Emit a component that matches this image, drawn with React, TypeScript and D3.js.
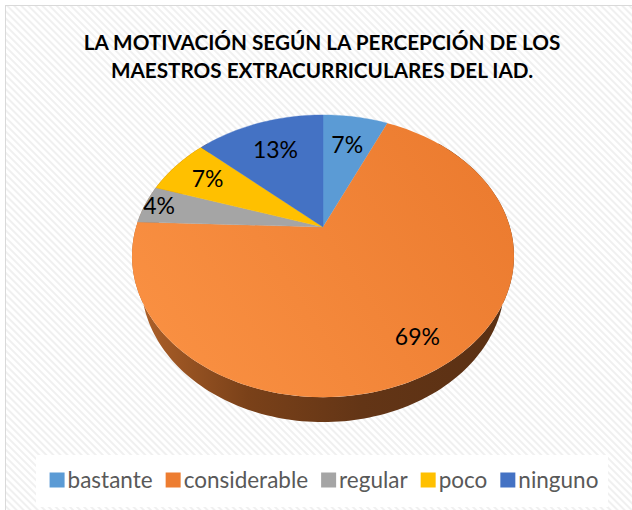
import React, { useEffect, useRef } from "react";
import * as d3 from "d3";

const categories = ["bastante", "considerable", "regular", "poco", "ninguno"];
const values = [6.7, 68.9, 4.4, 6.7, 13.3];
const pctLabels = ["7%", "69%", "4%", "7%", "13%"];
const colors = ["#5B9BD5", "#ED7D31", "#A5A5A5", "#FFC000", "#4472C4"];
const titleLines = [
  "LA MOTIVACIÓN SEGÚN LA PERCEPCIÓN DE LOS",
  "MAESTROS EXTRACURRICULARES DEL IAD.",
];
// label placement (fraction of radius) per slice, like Excel's best fit
const labelRadius = [0.71, 0.82, 0.92, 0.77, 0.71];

const W = 632;
const H = 510;

export default function App() {
  const ref = useRef<SVGSVGElement>(null);

  useEffect(() => {
    const svg = d3.select(ref.current);
    svg.selectAll("*").remove();

    const defs = svg.append("defs");
    const pat = defs
      .append("pattern")
      .attr("id", "stripes")
      .attr("width", 5)
      .attr("height", 5)
      .attr("patternUnits", "userSpaceOnUse")
      .attr("patternTransform", "rotate(-45)");
    pat.append("rect").attr("width", 5).attr("height", 5).attr("fill", "#ffffff");
    pat.append("rect").attr("width", 2).attr("height", 5).attr("fill", "#f0f0f0");

    const wallGrad = defs
      .append("linearGradient")
      .attr("id", "wallGrad")
      .attr("gradientUnits", "userSpaceOnUse")
      .attr("x1", 133)
      .attr("y1", 0)
      .attr("x2", 515)
      .attr("y2", 0);
    wallGrad.append("stop").attr("offset", 0).attr("stop-color", "#b0622a");
    wallGrad.append("stop").attr("offset", 0.3).attr("stop-color", "#7a4119");
    wallGrad.append("stop").attr("offset", 0.6).attr("stop-color", "#633516");
    wallGrad.append("stop").attr("offset", 1).attr("stop-color", "#5a3013");

    const topGrad = defs
      .append("linearGradient")
      .attr("id", "topGrad")
      .attr("gradientUnits", "userSpaceOnUse")
      .attr("x1", 150)
      .attr("y1", 380)
      .attr("x2", 480)
      .attr("y2", 170);
    topGrad.append("stop").attr("offset", 0).attr("stop-color", "#fa9143");
    topGrad.append("stop").attr("offset", 1).attr("stop-color", "#ec7c30");

    // background
    svg.append("rect").attr("width", W).attr("height", H).attr("fill", "#ffffff");
    svg
      .append("rect")
      .attr("x", 5.5)
      .attr("y", 5.5)
      .attr("width", W + 10)
      .attr("height", H + 10)
      .attr("fill", "url(#stripes)")
      .attr("stroke", "#d9d9d9")
      .attr("stroke-width", 1);

    // title
    const title = svg
      .append("g")
      .attr("font-family", "Lato, 'Open Sans', sans-serif")
      .attr("font-weight", 700)
      .attr("font-size", 20.7)
      .attr("fill", "#000000")
      .attr("text-anchor", "middle");
    titleLines.forEach((t, i) => {
      title
        .append("text")
        .attr("x", 322)
        .attr("y", 50 + i * 28)
        .text(t);
    });

    // 3D projection
    const cx = 323;
    const cy = 227;
    const F = 627;
    const L = 3.355;
    const sb = 0.723;
    const cb = 0.691;
    const h = 0.227;
    const proj = (X: number, Y: number, Z: number): [number, number] => {
      const depth = L + Y * cb - Z * sb;
      return [cx + (F * X) / depth, cy - (F * (Y * sb + Z * cb)) / depth];
    };
    const ring = (a: number, r: number, z: number) =>
      proj(r * Math.sin(a), r * Math.cos(a), z);

    const pie = d3.pie<number>().sort(null).value((d) => d);
    const arcs = pie(values);

    // wall (front side)
    const a0 = Math.PI * 0.25;
    const a1 = Math.PI * 1.75;
    const steps = 200;
    const topPts: [number, number][] = [];
    const botPts: [number, number][] = [];
    for (let i = 0; i <= steps; i++) {
      const a = a0 + ((a1 - a0) * i) / steps;
      topPts.push(ring(a, 1, 0));
      botPts.push(ring(a, 1, -h));
    }
    const wallPts = topPts.concat(botPts.reverse());
    svg
      .append("path")
      .attr("d", d3.line()(wallPts) + "Z")
      .attr("fill", "url(#wallGrad)");

    // top faces
    arcs.forEach((d, i) => {
      const n = Math.max(4, Math.ceil(((d.endAngle - d.startAngle) / (2 * Math.PI)) * 240));
      const pts: [number, number][] = [proj(0, 0, 0)];
      for (let k = 0; k <= n; k++) {
        const a = d.startAngle + ((d.endAngle - d.startAngle) * k) / n;
        pts.push(ring(a, 1, 0));
      }
      svg
        .append("path")
        .attr("d", d3.line()(pts) + "Z")
        .attr("fill", i === 1 ? "url(#topGrad)" : colors[i])
        .attr("stroke", i === 1 ? "none" : colors[i])
        .attr("stroke-width", 0.4);
    });

    // data labels
    arcs.forEach((d, i) => {
      const mid = (d.startAngle + d.endAngle) / 2;
      const [x, y] = ring(mid, labelRadius[i], 0);
      svg
        .append("text")
        .attr("x", x)
        .attr("y", y)
        .attr("dy", "0.36em")
        .attr("text-anchor", "middle")
        .attr("font-family", "Lato, 'Open Sans', sans-serif")
        .attr("font-size", 23)
        .attr("fill", "#000000")
        .text(pctLabels[i]);
    });

    // legend
    svg
      .append("rect")
      .attr("x", 36)
      .attr("y", 455)
      .attr("width", 572)
      .attr("height", 52)
      .attr("fill", "#ffffff");
    const lg = svg.append("g");
    const items = categories.map((c, i) => {
      const g = lg.append("g");
      g.append("rect")
        .attr("x", 0)
        .attr("y", -7.5)
        .attr("width", 15)
        .attr("height", 15)
        .attr("fill", colors[i]);
      const t = g
        .append("text")
        .attr("x", 18)
        .attr("y", 0)
        .attr("dy", "0.36em")
        .attr("font-family", "Lato, 'Open Sans', sans-serif")
        .attr("font-size", 22.5)
        .attr("fill", "#595959")
        .text(c);
      const w = (t.node() as SVGTextElement).getComputedTextLength();
      return { g, w: 18 + w };
    });
    const gap = 13;
    const total = items.reduce((s, it) => s + it.w, 0) + gap * (items.length - 1);
    let x = 324 - total / 2;
    items.forEach((it) => {
      it.g.attr("transform", `translate(${x},480)`);
      x += it.w + gap;
    });
  }, []);

  return (
    <svg
      ref={ref}
      width={W}
      height={H}
      style={{ position: "absolute", left: 0, top: 0, display: "block" }}
    />
  );
}
